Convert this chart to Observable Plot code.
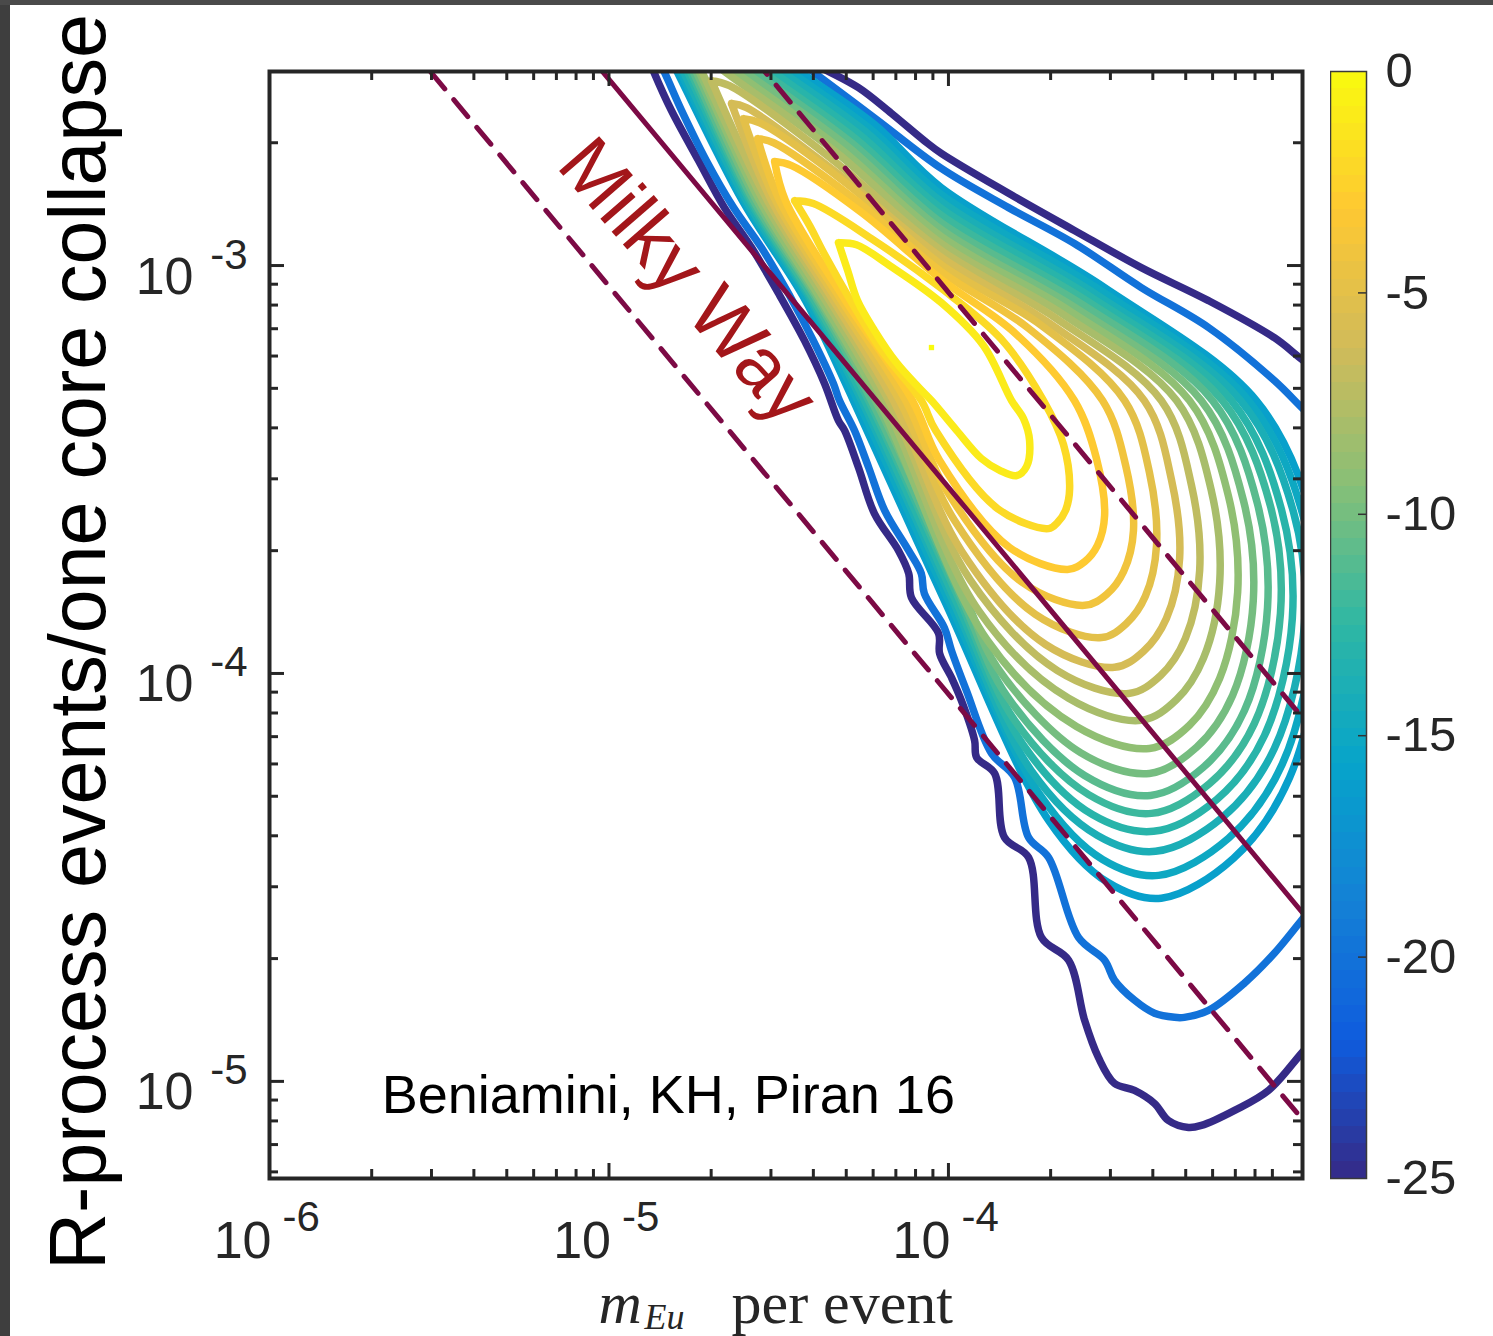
<!DOCTYPE html>
<html><head><meta charset="utf-8">
<script src="https://cdn.jsdelivr.net/npm/d3@7"></script>
<script src="https://cdn.jsdelivr.net/npm/@observablehq/plot@0.6"></script>
<style>
html,body{margin:0;padding:0;background:#fff;}
#wrap{position:relative;width:1493px;height:1336px;overflow:hidden;background:#fff;}
#main,#cbar{position:absolute;top:0;}
#main{left:0;} #cbar{left:1330px;}
.edgeL{position:absolute;left:0;top:0;width:10px;height:1336px;background:#3e3e3e;}
.edgeT{position:absolute;left:0;top:0;width:1493px;height:5px;background:#4a4a4a;}
</style></head><body>
<div id="wrap"><div id="main"></div><div id="cbar"></div><div class="edgeL"></div><div class="edgeT"></div></div>
<script>
// ---------- data (contour paths as [log10 mEu, log10 rate]) ----------
const lvl25lower = [[-4.887,-2.485],[-4.866,-2.529],[-4.816,-2.620],[-4.736,-2.743],[-4.660,-2.858],[-4.580,-2.956],[-4.500,-3.069],[-4.424,-3.184],[-4.365,-3.289],[-4.324,-3.380],[-4.306,-3.404],[-4.265,-3.495],[-4.218,-3.608],[-4.147,-3.699],[-4.117,-3.755],[-4.109,-3.814],[-4.029,-3.902],[-4.026,-3.951],[-3.991,-4.010],[-3.962,-4.066],[-3.923,-4.164],[-3.917,-4.206],[-3.864,-4.245],[-3.835,-4.402],[-3.764,-4.451],[-3.726,-4.647],[-3.646,-4.703],[-3.599,-4.850],[-3.558,-4.942],[-3.511,-5.005],[-3.452,-5.022],[-3.393,-5.054],[-3.352,-5.096],[-3.293,-5.113],[-3.255,-5.108],[-3.157,-5.071],[-3.057,-5.022],[-2.960,-4.931],[-2.901,-4.875]];
const lvl25upper = [[-4.438,-2.485],[-4.374,-2.515],[-4.265,-2.564],[-4.168,-2.627],[-4.071,-2.694],[-4.021,-2.725],[-3.823,-2.823],[-3.629,-2.914],[-3.432,-3.005],[-3.234,-3.086],[-3.040,-3.177],[-2.954,-3.233],[-2.901,-3.262]];
const lvl20lower = [[-4.863,-2.485],[-4.839,-2.522],[-4.786,-2.620],[-4.713,-2.743],[-4.633,-2.858],[-4.551,-2.956],[-4.471,-3.069],[-4.398,-3.184],[-4.339,-3.289],[-4.321,-3.331],[-4.277,-3.404],[-4.235,-3.495],[-4.188,-3.600],[-4.117,-3.699],[-4.080,-3.755],[-4.071,-3.804],[-4.012,-3.888],[-3.991,-3.944],[-3.947,-4.042],[-3.873,-4.196],[-3.805,-4.255],[-3.764,-4.402],[-3.705,-4.451],[-3.617,-4.647],[-3.540,-4.703],[-3.511,-4.752],[-3.452,-4.801],[-3.393,-4.833],[-3.334,-4.843],[-3.305,-4.843],[-3.234,-4.826],[-3.128,-4.759],[-3.040,-4.686],[-2.960,-4.605],[-2.901,-4.544]];
const lvl20upper = [[-4.462,-2.485],[-4.404,-2.522],[-4.212,-2.642],[-4.021,-2.762],[-3.823,-2.858],[-3.629,-2.946],[-3.432,-3.054],[-3.234,-3.152],[-3.040,-3.282],[-2.951,-3.355],[-2.901,-3.392]];
const lvl16 = [[-4.824,-2.485],[-4.801,-2.522],[-4.607,-2.841],[-4.421,-3.086],[-4.280,-3.331],[-4.012,-3.821],[-3.705,-4.360],[-3.531,-4.512],[-3.373,-4.551],[-3.160,-4.453],[-2.995,-4.255],[-2.901,-3.895],[-2.931,-3.613],[-3.093,-3.331],[-3.540,-3.054],[-4.021,-2.809],[-4.218,-2.654],[-4.441,-2.522],[-4.494,-2.485]];
const lvl15 = [[-4.816,-2.485],[-4.792,-2.522],[-4.601,-2.841],[-4.415,-3.086],[-4.268,-3.331],[-4.000,-3.821],[-3.729,-4.299],[-3.546,-4.456],[-3.381,-4.495],[-3.175,-4.404],[-3.016,-4.221],[-2.925,-3.885],[-2.957,-3.608],[-3.116,-3.331],[-3.552,-3.061],[-4.021,-2.826],[-4.232,-2.664],[-4.468,-2.522],[-4.521,-2.485]];
const lvl14 = [[-4.807,-2.485],[-4.783,-2.522],[-4.595,-2.841],[-4.406,-3.086],[-4.256,-3.331],[-3.988,-3.821],[-3.756,-4.238],[-3.561,-4.397],[-3.390,-4.436],[-3.193,-4.353],[-3.040,-4.184],[-2.951,-3.875],[-2.984,-3.603],[-3.139,-3.331],[-3.564,-3.071],[-4.021,-2.843],[-4.244,-2.672],[-4.494,-2.522],[-4.548,-2.485]];
const lvl13 = [[-4.795,-2.485],[-4.771,-2.522],[-4.586,-2.841],[-4.401,-3.086],[-4.247,-3.331],[-3.979,-3.821],[-3.779,-4.176],[-3.576,-4.346],[-3.396,-4.387],[-3.210,-4.309],[-3.069,-4.152],[-2.987,-3.865],[-3.019,-3.598],[-3.166,-3.331],[-3.579,-3.078],[-4.021,-2.860],[-4.259,-2.681],[-4.521,-2.522],[-4.574,-2.485]];
const lvl12 = [[-4.786,-2.485],[-4.762,-2.522],[-4.580,-2.841],[-4.395,-3.086],[-4.235,-3.331],[-3.967,-3.821],[-3.805,-4.115],[-3.587,-4.297],[-3.402,-4.343],[-3.231,-4.270],[-3.099,-4.123],[-3.022,-3.853],[-3.051,-3.591],[-3.193,-3.331],[-3.590,-3.088],[-4.021,-2.877],[-4.274,-2.689],[-4.551,-2.522],[-4.604,-2.485]];
const lvl11 = [[-4.777,-2.485],[-4.754,-2.522],[-4.574,-2.841],[-4.386,-3.086],[-4.227,-3.331],[-3.959,-3.821],[-3.829,-4.054],[-3.599,-4.250],[-3.405,-4.299],[-3.249,-4.230],[-3.128,-4.091],[-3.060,-3.838],[-3.090,-3.583],[-3.222,-3.331],[-3.605,-3.096],[-4.021,-2.895],[-4.286,-2.699],[-4.577,-2.522],[-4.630,-2.485]];
const lvl10 = [[-4.768,-2.485],[-4.745,-2.522],[-4.565,-2.841],[-4.380,-3.086],[-4.215,-3.331],[-3.947,-3.821],[-3.855,-3.987],[-3.611,-4.194],[-3.408,-4.245],[-3.269,-4.181],[-3.163,-4.054],[-3.102,-3.821],[-3.131,-3.576],[-3.255,-3.331],[-3.623,-3.105],[-4.021,-2.912],[-4.300,-2.706],[-4.604,-2.522],[-4.657,-2.485]];
const lvl9 = [[-4.759,-2.485],[-4.736,-2.522],[-4.556,-2.841],[-4.374,-3.086],[-4.206,-3.331],[-3.885,-3.919],[-3.623,-4.130],[-3.408,-4.184],[-3.290,-4.127],[-3.201,-4.012],[-3.148,-3.801],[-3.175,-3.566],[-3.290,-3.331],[-3.640,-3.113],[-4.021,-2.929],[-4.315,-2.716],[-4.633,-2.522],[-4.686,-2.485]];
const lvl8 = [[-4.751,-2.485],[-4.728,-2.522],[-4.545,-2.841],[-4.362,-3.086],[-4.191,-3.331],[-3.911,-3.846],[-3.646,-4.061],[-3.432,-4.115],[-3.328,-4.064],[-3.249,-3.963],[-3.201,-3.777],[-3.225,-3.554],[-3.328,-3.331],[-3.658,-3.122],[-4.021,-2.946],[-4.330,-2.723],[-4.663,-2.522],[-4.716,-2.485]];
const lvl7 = [[-4.698,-2.547],[-4.533,-2.841],[-4.350,-3.086],[-4.176,-3.331],[-3.935,-3.772],[-3.679,-3.993],[-3.469,-4.049],[-3.375,-4.005],[-3.302,-3.914],[-3.260,-3.748],[-3.284,-3.539],[-3.373,-3.331],[-3.682,-3.130],[-4.021,-2.963],[-4.345,-2.738],[-4.645,-2.559],[-4.698,-2.547]];
const lvl6 = [[-4.639,-2.603],[-4.521,-2.841],[-4.339,-3.086],[-4.162,-3.331],[-3.962,-3.699],[-3.714,-3.929],[-3.511,-3.985],[-3.426,-3.946],[-3.358,-3.865],[-3.319,-3.718],[-3.343,-3.525],[-3.423,-3.331],[-3.705,-3.140],[-4.021,-2.980],[-4.327,-2.774],[-4.595,-2.613],[-4.639,-2.603]];
const lvl5 = [[-4.604,-2.640],[-4.509,-2.841],[-4.327,-3.086],[-4.144,-3.331],[-3.982,-3.625],[-3.744,-3.855],[-3.549,-3.912],[-3.475,-3.877],[-3.420,-3.811],[-3.387,-3.686],[-3.408,-3.507],[-3.481,-3.331],[-3.726,-3.147],[-4.021,-2.998],[-4.300,-2.799],[-4.556,-2.650],[-4.604,-2.640]];
const lvl4 = [[-4.562,-2.689],[-4.497,-2.841],[-4.315,-3.086],[-4.126,-3.331],[-4.006,-3.551],[-3.782,-3.777],[-3.599,-3.833],[-3.534,-3.806],[-3.484,-3.750],[-3.455,-3.650],[-3.478,-3.490],[-3.546,-3.331],[-3.764,-3.154],[-4.021,-3.015],[-4.283,-2.833],[-4.515,-2.699],[-4.562,-2.689]];
const lvl3 = [[-4.512,-2.745],[-4.480,-2.841],[-4.303,-3.086],[-4.106,-3.331],[-4.026,-3.478],[-3.820,-3.691],[-3.649,-3.745],[-3.599,-3.726],[-3.561,-3.686],[-3.540,-3.613],[-3.564,-3.473],[-3.629,-3.331],[-3.802,-3.167],[-4.021,-3.034],[-4.256,-2.870],[-4.462,-2.755],[-4.512,-2.745]];
const lvl2 = [[-4.453,-2.841],[-4.409,-2.902],[-4.368,-2.968],[-4.288,-3.086],[-4.197,-3.208],[-4.080,-3.331],[-4.038,-3.404],[-3.855,-3.596],[-3.705,-3.645],[-3.679,-3.630],[-3.655,-3.600],[-3.643,-3.547],[-3.661,-3.439],[-3.720,-3.331],[-3.846,-3.179],[-4.021,-3.056],[-4.227,-2.934],[-4.398,-2.848],[-4.453,-2.841]];
const lvl1 = [[-4.324,-2.944],[-4.297,-3.012],[-4.268,-3.086],[-4.218,-3.159],[-4.153,-3.238],[-4.085,-3.301],[-4.050,-3.331],[-3.976,-3.404],[-3.903,-3.473],[-3.849,-3.502],[-3.799,-3.515],[-3.770,-3.493],[-3.761,-3.429],[-3.779,-3.375],[-3.814,-3.331],[-3.897,-3.196],[-4.021,-3.091],[-4.173,-3.000],[-4.271,-2.949],[-4.324,-2.944]];
const peakPoint = [{level: 0, lx: -4.050, ly: -3.201}];

const contourSeries = [
  [-25, lvl25lower], [-25, lvl25upper], [-20, lvl20lower], [-20, lvl20upper],
  [-16, lvl16], [-15, lvl15], [-14, lvl14], [-13, lvl13], [-12, lvl12], [-11, lvl11],
  [-10, lvl10], [-9, lvl9], [-8, lvl8], [-7, lvl7], [-6, lvl6], [-5, lvl5],
  [-4, lvl4], [-3, lvl3], [-2, lvl2], [-1, lvl1]
];

// Milky Way constraint lines: rate * mEu = constant
const milkyWayProducts = [8.9e-9, 2.86e-8, 8.6e-8]; // lower dashed, solid, upper dashed
const lineXs = [1e-6, 1.3e-3];

const xDomain = [1e-6, 1.104e-3];
const yDomain = [5.78e-6, 2.99e-3];
const xMajorTicks = [1e-6, 1e-5, 1e-4];
const xTickExp = ["-6", "-5", "-4"];
const xMinorTicks = [2e-6,3e-6,4e-6,5e-6,6e-6,7e-6,8e-6,9e-6,2e-5,3e-5,4e-5,5e-5,6e-5,7e-5,8e-5,9e-5,2e-4,3e-4,4e-4,5e-4,6e-4,7e-4,8e-4,9e-4];
const yMajorTicks = [1e-5, 1e-4, 1e-3];
const yTickExp = ["-5", "-4", "-3"];
const yMinorTicks = [6e-6,7e-6,8e-6,9e-6,2e-5,3e-5,4e-5,5e-5,6e-5,7e-5,8e-5,9e-5,2e-4,3e-4,4e-4,5e-4,6e-4,7e-4,8e-4,9e-4,2e-3];

const cbTicks = [0, -5, -10, -15, -20, -25];
const cbLabels = ["0", "-5", "-10", "-15", "-20", "-25"];

const parulaColors = ["#352a87","#0f5cdd","#1481d6","#06a4ca","#2eb7a4","#87bf77","#d1bb59","#fec832","#f9fb0e"];
const parulaStops = [-25,-21.875,-18.75,-15.625,-12.5,-9.375,-6.25,-3.125,0];

const milkyWayLabel = [{x: 1.706e-5, y: 9.14e-4, text: "Milky Way"}];
const citeLabel = [{x: 2.14e-6, y: 8.36e-6, text: "Beniamini, KH, Piran 16"}];

// ---------- build tables ----------
const contourRows = contourSeries.flatMap(([level, pts], i) =>
  pts.map(([lx, ly]) => ({level, seg: i, x: 10 ** lx, y: 10 ** ly})));
const peakRows = peakPoint.map(d => ({level: d.level, x: 10 ** d.lx, y: 10 ** d.ly}));
const lineRows = milkyWayProducts.flatMap((c, i) => lineXs.map(x => ({id: i, x, y: c / x})));

const colorScale = {type: "linear", domain: parulaStops, range: parulaColors, interpolate: "rgb"};
const axisColor = "#262626";
const sans = "'Liberation Sans', Helvetica, Arial, sans-serif";
const serif = "'Liberation Serif', 'Times New Roman', serif";
const W = 1493, H = 1336, mL = 269, mR = 191, mT = 71, mB = 158;
const innerW = W - mL - mR, innerH = H - mT - mB;

const main = Plot.plot({
  width: W, height: H, marginLeft: mL, marginRight: mR, marginTop: mT, marginBottom: mB,
  x: {type: "log", domain: xDomain, axis: null},
  y: {type: "log", domain: yDomain, axis: null},
  color: colorScale,
  style: {background: "transparent", fontFamily: sans},
  marks: [
    Plot.line(contourRows, {x: "x", y: "y", z: "seg", stroke: "level", strokeWidth: 7.5,
      curve: "catmull-rom", strokeLinejoin: "round", strokeLinecap: "round", clip: true}),
    Plot.dot(peakRows, {x: "x", y: "y", fill: "level", symbol: "square", r: 3, clip: true}),
    Plot.line(lineRows.filter(d => d.id === 1), {x: "x", y: "y", stroke: "#7c0a45", strokeWidth: 5, clip: true}),
    Plot.line(lineRows.filter(d => d.id !== 1), {x: "x", y: "y", z: "id", stroke: "#7c0a45", strokeWidth: 5,
      strokeDasharray: "22,14", clip: true}),
    Plot.text(milkyWayLabel, {x: "x", y: "y", text: "text", rotate: 49, fontSize: 77, fill: "#a3161a",
      textAnchor: "middle", lineAnchor: "middle", fontFamily: sans}),
    Plot.text(citeLabel, {x: "x", y: "y", text: "text", fontSize: 54, fill: "#000",
      textAnchor: "start", lineAnchor: "bottom", fontFamily: sans}),
    // ticks (inside, all four sides)
    Plot.ruleX(xMajorTicks, {x: d => d, insetTop: innerH - 15, stroke: axisColor, strokeWidth: 3}),
    Plot.ruleX(xMajorTicks, {x: d => d, insetBottom: innerH - 15, stroke: axisColor, strokeWidth: 3}),
    Plot.ruleX(xMinorTicks, {x: d => d, insetTop: innerH - 9, stroke: axisColor, strokeWidth: 3}),
    Plot.ruleX(xMinorTicks, {x: d => d, insetBottom: innerH - 9, stroke: axisColor, strokeWidth: 3}),
    Plot.ruleY(yMajorTicks, {y: d => d, insetRight: innerW - 15, stroke: axisColor, strokeWidth: 3}),
    Plot.ruleY(yMajorTicks, {y: d => d, insetLeft: innerW - 15, stroke: axisColor, strokeWidth: 3}),
    Plot.ruleY(yMinorTicks, {y: d => d, insetRight: innerW - 9, stroke: axisColor, strokeWidth: 3}),
    Plot.ruleY(yMinorTicks, {y: d => d, insetLeft: innerW - 9, stroke: axisColor, strokeWidth: 3}),
    Plot.frame({stroke: axisColor, strokeWidth: 4}),
    // tick labels
    Plot.text(xMajorTicks, {x: d => d, frameAnchor: "bottom", dy: 79, dx: 2, text: () => "10",
      textAnchor: "end", lineAnchor: "bottom", fontSize: 52, fill: axisColor}),
    Plot.text(xMajorTicks, {x: d => d, frameAnchor: "bottom", dy: 52, dx: 13, text: (d, i) => xTickExp[i],
      textAnchor: "start", lineAnchor: "bottom", fontSize: 42, fill: axisColor}),
    Plot.text(yMajorTicks, {y: d => d, frameAnchor: "left", dx: -76, dy: 28, text: () => "10",
      textAnchor: "end", lineAnchor: "bottom", fontSize: 52, fill: axisColor}),
    Plot.text(yMajorTicks, {y: d => d, frameAnchor: "left", dx: -22, dy: 3, text: (d, i) => yTickExp[i],
      textAnchor: "end", lineAnchor: "bottom", fontSize: 42, fill: axisColor}),
    // axis titles
    Plot.text(["R-process events/one core collapse"], {frameAnchor: "left", text: d => d, rotate: -90,
      dx: -165, dy: 17, textAnchor: "middle", lineAnchor: "bottom", fontSize: 79, fill: "#000"}),
    Plot.text(["m"], {frameAnchor: "bottom-left", text: d => d, dx: 329, dy: 144, textAnchor: "start",
      lineAnchor: "bottom", fontSize: 60, fontStyle: "italic", fontFamily: serif, fill: axisColor}),
    Plot.text(["Eu"], {frameAnchor: "bottom-left", text: d => d, dx: 375, dy: 150, textAnchor: "start",
      lineAnchor: "bottom", fontSize: 36, fontStyle: "italic", fontFamily: serif, fill: axisColor}),
    Plot.text(["per event"], {frameAnchor: "bottom-left", text: d => d, dx: 462, dy: 144, textAnchor: "start",
      lineAnchor: "bottom", fontSize: 60, fontFamily: serif, fill: axisColor})
  ]
});
document.getElementById("main").append(main);

// ---------- colorbar ----------
const cbBins = d3.range(64).map(i => {
  const y1 = -25 + i * 25 / 64, y2 = -25 + (i + 1) * 25 / 64;
  return {y1, y2, v: (y1 + y2) / 2};
});
const cb = Plot.plot({
  width: 163, height: H, marginLeft: 0, marginRight: 127, marginTop: mT, marginBottom: mB,
  x: {domain: [0, 1], axis: null},
  y: {domain: [-25, 0], axis: null},
  color: colorScale,
  style: {background: "transparent", fontFamily: sans},
  marks: [
    Plot.rect(cbBins, {x1: 0, x2: 1, y1: "y1", y2: "y2", fill: "v", shapeRendering: "crispEdges"}),
    Plot.ruleY(cbTicks.slice(1, 5), {y: d => d, insetLeft: 28, stroke: "#333", strokeWidth: 1.5}),
    Plot.frame({stroke: "#3a3a3a", strokeWidth: 1.5}),
    Plot.text(cbTicks, {y: d => d, frameAnchor: "right", dx: 19, text: (d, i) => cbLabels[i],
      textAnchor: "start", lineAnchor: "middle", fontSize: 49, fill: axisColor})
  ]
});
document.getElementById("cbar").append(cb);
</script></body></html>
